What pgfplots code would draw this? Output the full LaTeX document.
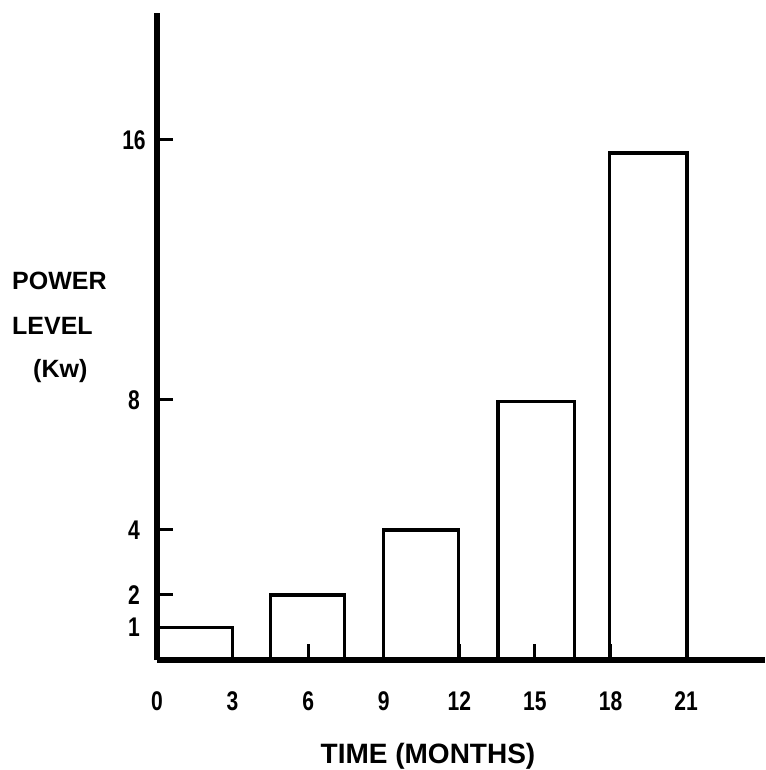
\documentclass[border=0pt]{standalone}
\usepackage{fontspec}
\setmainfont{Liberation Sans}
\newfontfamily\digitfont{Liberation Sans}[FakeStretch=0.78]
\usepackage{pgfplots}
\pgfplotsset{compat=1.18}

\begin{document}
\begin{tikzpicture}
% page = 765 x 770, axis origin sits at image pixel (157,660)
\path[use as bounding box] (-157pt,-110pt) rectangle (608pt,660pt);
\begin{axis}[
  scale only axis,
  width=608pt, height=647pt,
  xmin=0, xmax=24.13,
  ymin=0, ymax=19.9,
  axis x line=bottom, axis y line=left,
  axis line style={-, line width=6pt},
  clip=false,
  xtick={0,3,...,21},
  ytick={1,2,4,8,16},
  tick align=inside,
  major tick length=16pt,
  tick style={line width=3pt, black},
  /pgf/number format/assume math mode=true,
  ticklabel style={font=\digitfont\bfseries\fontsize{27}{27}\selectfont},
  xticklabel style={anchor=center, yshift=-41pt},
  yticklabel style={anchor=center, xshift=-23pt},
]
\addplot[black, line width=3.5pt] coordinates {(0,0) (0,1) (3,1) (3,0)};
\addplot[black, line width=3.5pt] coordinates {(4.5,0) (4.5,2) (7.45,2) (7.45,0)};
\addplot[black, line width=3.5pt] coordinates {(8.99,0) (8.99,4) (11.97,4) (11.97,0)};
\addplot[black, line width=3.5pt] coordinates {(13.53,0) (13.53,7.95) (16.57,7.95) (16.57,0)};
\addplot[black, line width=3.5pt] coordinates {(17.96,0) (17.96,15.6) (21.03,15.6) (21.03,0)};
\end{axis}
\begin{scope}[font=\bfseries\fontsize{25}{25}\selectfont]
\node[anchor=base west, inner sep=0pt] at (-145pt,370pt) {POWER};
\node[anchor=base west, inner sep=0pt] at (-145pt,325pt) {LEVEL};
\node[anchor=base west, inner sep=0pt] at (-124pt,282pt) {(Kw)};
\end{scope}
\node[anchor=base, inner sep=0pt, font=\bfseries\fontsize{28}{28}\selectfont]
  at (271pt,-103pt) {TIME (MONTHS)};
\end{tikzpicture}
\end{document}
